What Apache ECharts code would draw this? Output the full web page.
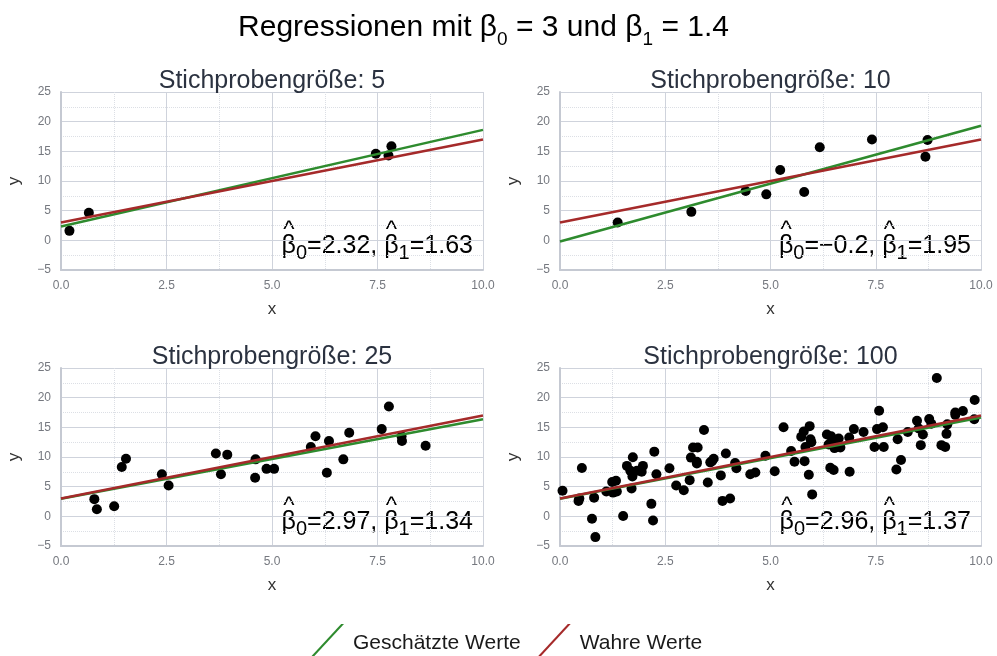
<!DOCTYPE html>
<html>
<head>
<meta charset="utf-8">
<script src="https://cdn.jsdelivr.net/npm/echarts@6/dist/echarts.min.js"></script>
<style>
  html, body { margin: 0; padding: 0; background: #fff; }
  #main { width: 997px; height: 656px; }
</style>
</head>
<body>
<div id="main"></div>
<script>
// Stichproben
var x5 = [0.2, 0.66, 7.46, 7.76, 7.83];
var y5 = [1.6, 4.65, 14.6, 14.3, 15.85];

var x10 = [1.37, 3.12, 4.41, 4.90, 5.23, 5.80, 6.17, 7.41, 8.73, 8.68];
var y10 = [3.0, 4.8, 8.3, 7.75, 11.85, 8.15, 15.7, 17.0, 16.9, 14.1];

var x25 = [0.79, 0.85, 1.26, 1.44, 1.54, 2.39, 2.55, 3.67, 3.79, 3.94, 4.60, 4.61, 4.87,
           5.05, 5.92, 6.03, 6.30, 6.35, 6.69, 6.83, 7.60, 7.77, 8.07, 8.08, 8.64];
var y25 = [2.9, 1.2, 1.7, 8.3, 9.7, 7.1, 5.2, 10.6, 7.1, 10.4, 6.5, 9.6, 8.0,
           8.0, 11.7, 13.5, 7.35, 12.7, 9.6, 14.1, 14.7, 18.5, 13.5, 12.7, 11.9];

var x100 = [0.06, 0.44, 0.46, 0.52, 0.76, 0.81, 0.84, 1.10, 1.24, 1.33, 1.35, 1.26, 1.50, 1.59,
            1.67, 1.72, 1.70, 1.73, 1.83, 1.97, 1.94, 2.17, 2.21, 2.24, 2.29, 2.60, 2.76, 2.94,
            3.08, 3.11, 3.16, 3.25, 3.27, 3.25, 3.42, 3.51, 3.57, 3.65, 3.61, 3.82, 3.86, 3.94,
            4.04, 4.16, 4.19, 4.52, 4.64, 4.88, 5.10, 5.31, 5.49, 5.57, 5.73, 5.79, 5.81, 5.83,
            5.93, 5.91, 5.95, 5.97, 5.99, 6.34, 6.38, 6.42, 6.44, 6.50, 6.52, 6.58, 6.62, 6.66,
            6.88, 6.87, 6.98, 7.21, 7.47, 7.53, 7.58, 7.67, 7.69, 7.99, 8.02, 8.10, 8.26, 8.48,
            8.52, 8.57, 8.62, 8.77, 8.82, 8.95, 9.06, 9.15, 9.18, 9.20, 9.39, 9.57, 9.85, 9.84,
            9.39, 6.47];
var y100 = [4.3, 2.6, 3.0, 8.15, -0.4, 3.15, -3.5, 4.2, 5.8, 6.0, 4.2, 4.0, 0.05, 8.5,
            7.7, 6.7, 4.7, 9.95, 7.7, 8.5, 7.5, 2.1, -0.7, 10.9, 7.1, 8.1, 5.2, 4.4,
            6.1, 9.9, 11.6, 9.2, 11.6, 8.9, 14.55, 5.7, 9.1, 9.7, 9.3, 6.9, 2.6, 10.6,
            3.0, 9.0, 8.1, 7.1, 7.4, 10.2, 7.6, 15.0, 11.0, 9.2, 13.4, 14.3, 9.3, 11.7,
            15.2, 7.0, 13.0, 12.5, 3.7, 13.8, 12.1, 8.2, 13.5, 7.8, 11.5, 12.3, 13.1, 11.6,
            7.5, 13.3, 14.7, 14.2, 11.7, 14.7, 17.8, 15.0, 11.7, 7.9, 13.0, 9.5, 14.2, 16.1,
            14.8, 12.0, 13.8, 16.4, 15.6, 23.3, 12.0, 11.7, 13.9, 15.5, 17.5, 17.75, 19.6, 16.35,
            17.1, 12.9];

var sampleX = [x5, x10, x25, x100];
var sampleY = [y5, y10, y25, y100];
var sampleSizes = [5, 10, 25, 100];

// geschätzte und wahre Koeffizienten
var b0Est = [2.32, -0.2, 2.97, 2.96];
var b1Est = [1.63, 1.95, 1.34, 1.37];
var b0True = 3;
var b1True = 1.4;

var xTicks = [0, 10, 2.5];   // min, max, interval
var yTicks = [-5, 25, 5];

var FONT = '"Liberation Sans", Arial, Helvetica, sans-serif';
var GREEN = '#2e8b2e';
var RED = '#a52a2a';

// Lage der vier Felder
var grids = [
  { left: 61, top: 92, width: 422, height: 178 },
  { left: 560, top: 92, width: 421, height: 178 },
  { left: 61, top: 368, width: 422, height: 178 },
  { left: 560, top: 368, width: 421, height: 178 }
];

var chart = echarts.init(document.getElementById('main'), null, { renderer: 'canvas' });

var measureCtx = document.createElement('canvas').getContext('2d');
function textWidth(str, size) {
  measureCtx.font = size + 'px ' + FONT;
  return measureCtx.measureText(str).width;
}

// Formeltext aus Stücken: [text, groesse, verschiebung, hut]
function mathText(parts, startX, bottom, color) {
  var els = [];
  var x = startX;
  parts.forEach(function (p) {
    var w = textWidth(p[0], p[1]);
    els.push({
      type: 'text', silent: true,
      style: {
        text: p[0], x: x, y: bottom + p[2],
        font: p[1] + 'px ' + FONT, fill: color,
        align: 'left', verticalAlign: 'bottom'
      }
    });
    if (p[3]) {
      els.push({
        type: 'text', silent: true,
        style: {
          text: '^', x: x + w / 2, y: bottom - 17,
          font: '24px ' + FONT, fill: color,
          align: 'center', verticalAlign: 'bottom'
        }
      });
    }
    x += w;
  });
  return els;
}
function mathWidth(parts) {
  var s = 0;
  parts.forEach(function (p) { s += textWidth(p[0], p[1]); });
  return s;
}
function fmt(v) { return String(v).replace('-', '\u2212'); }

var options = {
  animation: false,
  backgroundColor: '#fff',
  title: [],
  grid: [],
  xAxis: [],
  yAxis: [],
  series: [],
  legend: {
    data: ['Geschätzte Werte', 'Wahre Werte'],
    left: 301, top: 619,
    itemWidth: 38, itemHeight: 40, itemGap: 12,
    icon: 'path://M0,40 L37,0 L40,0 L3,40 Z',
    textStyle: { fontFamily: FONT, fontSize: 21, color: '#1a1a1a', padding: [0, 0, 0, 4] }
  },
  graphic: []
};

grids.forEach(function (g, i) {
  options.grid.push({ left: g.left, top: g.top, width: g.width, height: g.height, containLabel: false });
  options.title.push({
    text: 'Stichprobengröße: ' + sampleSizes[i],
    left: g.left + g.width / 2, top: g.top - 23, textAlign: 'center', padding: 0,
    textStyle: { fontFamily: FONT, fontSize: 25, fontWeight: 'normal', color: '#2b3240' }
  });
  options.xAxis.push({
    type: 'value', gridIndex: i, min: xTicks[0], max: xTicks[1], interval: xTicks[2],
    name: 'x', nameLocation: 'middle', nameGap: 31,
    nameTextStyle: { fontFamily: FONT, fontSize: 17, color: '#333' },
    axisLine: { show: true, onZero: false, lineStyle: { color: '#c5c9d2', width: 2 } },
    axisTick: { show: false },
    axisLabel: { fontFamily: FONT, fontSize: 12, color: '#75787f', margin: 10,
      formatter: function (v) { return v.toFixed(1); } },
    splitLine: { show: true, lineStyle: { color: '#cfd3dc', width: 1 } },
    minorTick: { show: false, splitNumber: 2 },
    minorSplitLine: { show: true, lineStyle: { color: '#dcdfe5', type: 'dotted', width: 1 } }
  });
  options.yAxis.push({
    type: 'value', gridIndex: i, min: yTicks[0], max: yTicks[1], interval: yTicks[2],
    name: 'y', nameLocation: 'middle', nameGap: 38, nameRotate: 90,
    nameTextStyle: { fontFamily: FONT, fontSize: 17, color: '#333' },
    axisLine: { show: true, onZero: false, lineStyle: { color: '#c5c9d2', width: 2 } },
    axisTick: { show: false },
    axisLabel: { fontFamily: FONT, fontSize: 12, color: '#75787f', margin: 10,
      formatter: function (v) { return fmt(v); } },
    splitLine: { show: true, lineStyle: { color: '#cfd3dc', width: 1 } },
    minorTick: { show: false, splitNumber: 2 },
    minorSplitLine: { show: true, lineStyle: { color: '#dcdfe5', type: 'dotted', width: 1 } }
  });

  var pts = sampleX[i].map(function (xv, k) { return [xv, sampleY[i][k]]; });
  options.series.push({
    name: 'Stichprobe ' + sampleSizes[i], type: 'scatter',
    xAxisIndex: i, yAxisIndex: i, data: pts,
    symbolSize: 10, itemStyle: { color: '#000', opacity: 1 }, z: 2
  });
  options.series.push({
    name: 'Geschätzte Werte', type: 'line', xAxisIndex: i, yAxisIndex: i,
    data: [[xTicks[0], b0Est[i] + b1Est[i] * xTicks[0]], [xTicks[1], b0Est[i] + b1Est[i] * xTicks[1]]],
    showSymbol: false, symbol: 'none', color: GREEN,
    lineStyle: { color: GREEN, width: 2.5 }, z: 3
  });
  options.series.push({
    name: 'Wahre Werte', type: 'line', xAxisIndex: i, yAxisIndex: i,
    data: [[xTicks[0], b0True + b1True * xTicks[0]], [xTicks[1], b0True + b1True * xTicks[1]]],
    showSymbol: false, symbol: 'none', color: RED,
    lineStyle: { color: RED, width: 2.5 }, z: 4
  });

  // Beschriftung mit beta-Dach
  var parts = [
    ['\u03b2', 25, 0, true], ['0', 20, 4, false], ['=' + fmt(b0Est[i]) + ', ', 25, 0, false],
    ['\u03b2', 25, 0, true], ['1', 20, 4, false], ['=' + fmt(b1Est[i]), 25, 0, false]
  ];
  var right = g.left + g.width - 10;
  options.graphic = options.graphic.concat(
    mathText(parts, right - mathWidth(parts), g.top + g.height - 11, '#000'));
});

// Haupttitel
var titleParts = [
  ['Regressionen mit \u03b2', 30, 0, false], ['0', 19, 6, false], [' = 3 und \u03b2', 30, 0, false],
  ['1', 19, 6, false], [' = 1.4', 30, 0, false]
];
options.graphic = options.graphic.concat(
  mathText(titleParts, 483.5 - mathWidth(titleParts) / 2, 43, '#000'));

chart.setOption(options);
</script>
</body>
</html>
